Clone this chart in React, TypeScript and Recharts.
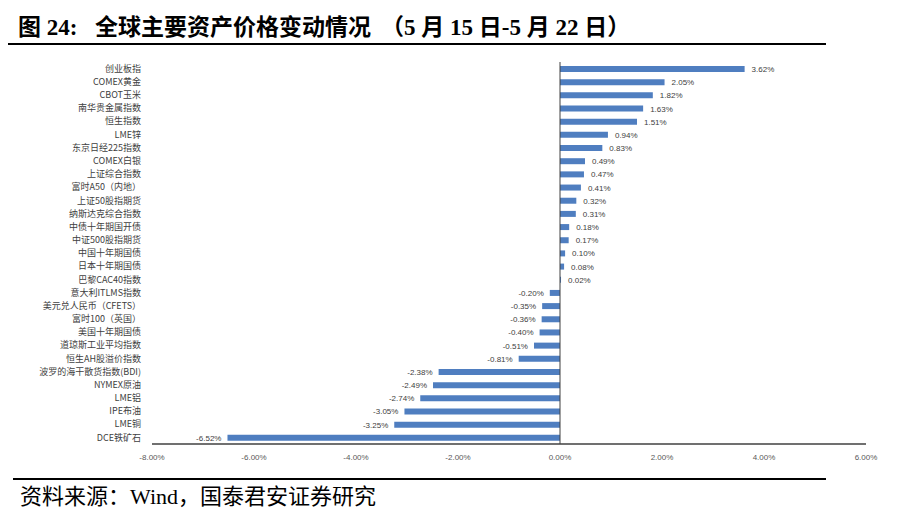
import { BarChart, Bar, XAxis, YAxis, ReferenceLine, LabelList } from "recharts";

const categories = [
  "创业板指",
  "COMEX黄金",
  "CBOT玉米",
  "南华贵金属指数",
  "恒生指数",
  "LME锌",
  "东京日经225指数",
  "COMEX白银",
  "上证综合指数",
  "富时A50（内地）",
  "上证50股指期货",
  "纳斯达克综合指数",
  "中债十年期国开债",
  "中证500股指期货",
  "中国十年期国债",
  "日本十年期国债",
  "巴黎CAC40指数",
  "意大利ITLMS指数",
  "美元兑人民币（CFETS）",
  "富时100（英国）",
  "美国十年期国债",
  "道琼斯工业平均指数",
  "恒生AH股溢价指数",
  "波罗的海干散货指数(BDI)",
  "NYMEX原油",
  "LME铝",
  "IPE布油",
  "LME铜",
  "DCE铁矿石",
];

// weekly change, %
const changes = [
  3.62, 2.05, 1.82, 1.63, 1.51, 0.94, 0.83, 0.49, 0.47, 0.41, 0.32, 0.31, 0.18,
  0.17, 0.1, 0.08, 0.02, -0.2, -0.35, -0.36, -0.4, -0.51, -0.81, -2.38, -2.49,
  -2.74, -3.05, -3.25, -6.52,
];

const xTicks = [-8, -6, -4, -2, 0, 2, 4, 6];

const data = categories.map((name, i) => ({ name, value: changes[i] }));

const pct = (v: number) => `${v.toFixed(2)}%`;

const serif = "Liberation Serif, 'Noto Sans CJK SC', serif";

function ValueLabel(props: any) {
  const { x, y, width, height, value } = props;
  const left = Math.min(x, x + width);
  const right = Math.max(x, x + width);
  const neg = value < 0;
  return (
    <text
      x={neg ? left - 6 : right + 7}
      y={y + height / 2}
      dy={3}
      textAnchor={neg ? "end" : "start"}
      fontSize={8}
      fill="#404040"
      fontFamily="Liberation Sans, Arial, sans-serif"
    >
      {pct(value)}
    </text>
  );
}

const titleStyle = {
  position: "absolute" as const,
  top: 14,
  fontFamily: serif,
  fontWeight: "bold" as const,
  fontSize: 23,
  color: "#000",
  whiteSpace: "pre" as const,
  lineHeight: "28px",
};

export default function App() {
  return (
    <div
      style={{
        position: "fixed",
        left: 0,
        top: 0,
        width: 900,
        height: 530,
        background: "#fff",
      }}
    >
      <span style={{ ...titleStyle, left: 18 }}>图 24:</span>
      <span style={{ ...titleStyle, left: 95 }}>全球主要资产价格变动情况</span>
      <span style={{ ...titleStyle, left: 381 }}>（5 月 15 日-5 月 22 日）</span>
      <div
        style={{
          position: "absolute",
          left: 8,
          top: 43,
          width: 818,
          height: 2,
          background: "#000",
        }}
      />
      <BarChart
        width={900}
        height={530}
        data={data}
        layout="vertical"
        margin={{ top: 62, right: 34, bottom: 56, left: 0 }}
        barCategoryGap={0}
      >
        <XAxis
          type="number"
          domain={[-8, 6]}
          ticks={xTicks}
          tickFormatter={pct}
          tickSize={0}
          tickMargin={10}
          height={30}
          axisLine={{ stroke: "#404040", strokeWidth: 1.5 }}
          tick={{
            fontSize: 8,
            fill: "#595959",
            fontFamily: "Liberation Sans, Arial, sans-serif",
          }}
        />
        <YAxis
          type="category"
          dataKey="name"
          width={152}
          tickSize={0}
          tickMargin={11}
          axisLine={false}
          interval={0}
          tick={{
            fontSize: 9,
            fill: "#404040",
            fontFamily: "'Noto Sans CJK SC', sans-serif",
          }}
        />
        <ReferenceLine x={0} stroke="#404040" strokeWidth={1} />
        <Bar
          dataKey="value"
          fill="#4F7EC0"
          barSize={6}
          isAnimationActive={false}
        >
          <LabelList dataKey="value" content={ValueLabel} />
        </Bar>
      </BarChart>
      <div
        style={{
          position: "absolute",
          left: 13,
          top: 478,
          width: 813,
          height: 2,
          background: "#000",
        }}
      />
      <div
        style={{
          position: "absolute",
          left: 20,
          top: 483,
          fontFamily: serif,
          fontSize: 22,
          color: "#000",
          lineHeight: "28px",
          whiteSpace: "pre",
        }}
      >
        资料来源：Wind，国泰君安证券研究
      </div>
    </div>
  );
}
